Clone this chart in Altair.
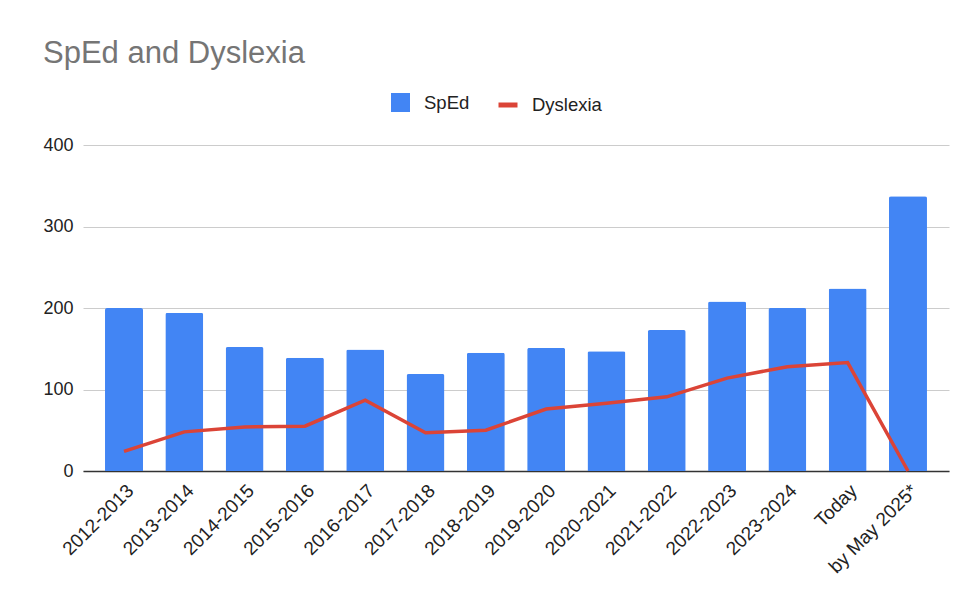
import altair as alt
import pandas as pd

categories = ["2012-2013", "2013-2014", "2014-2015", "2015-2016", "2016-2017",
              "2017-2018", "2018-2019", "2019-2020", "2020-2021", "2021-2022",
              "2022-2023", "2023-2024", "Today", "by May 2025*"]
sped = [200, 194, 152, 139, 149, 119, 145, 151, 147, 173, 208, 200, 224, 337]
dyslexia = [24, 48, 54, 55, 87, 47, 50, 76, 83, 91, 114, 128, 133, 0]
y_ticks = [0, 100, 200, 300, 400]

df = pd.DataFrame({"cat": categories, "SpEd": sped, "Dyslexia": dyslexia,
                   "s1": "SpEd", "s2": "Dyslexia"})

FONT = "Liberation Sans"
BLUE = "#4285F4"
RED = "#DB4437"

x = alt.X("cat:N", sort=categories, title=None,
          scale=alt.Scale(paddingInner=0.37, paddingOuter=0.365),
          axis=alt.Axis(labelAngle=-45, labelFontSize=19, labelColor="#222222",
                        labelFont=FONT, ticks=False, labelPadding=10,
                        domainColor="#333333", domainWidth=1.3, grid=False,
                        labelAlign="right", labelBaseline="top"))

bars = alt.Chart(df).mark_bar(cornerRadiusTopLeft=2, cornerRadiusTopRight=2).encode(
    x=x,
    y=alt.Y("SpEd:Q", title=None,
            scale=alt.Scale(domain=[0, 400], nice=False),
            axis=alt.Axis(values=y_ticks, labelFontSize=18, labelColor="#222222",
                          labelFont=FONT, ticks=False, domain=False,
                          labelPadding=10, gridColor="#cccccc", gridWidth=1)),
    color=alt.Color("s1:N", scale=alt.Scale(domain=["SpEd"], range=[BLUE]),
                    legend=alt.Legend(title=None, orient="none", legendX=308, legendY=-52,
                                      symbolType="square", symbolSize=361,
                                      symbolStrokeWidth=0, labelFontSize=18.5,
                                      labelFont=FONT, labelColor="#222222",
                                      labelOffset=14)),
)

line = alt.Chart(df).mark_line(strokeWidth=3.5).encode(
    x=x,
    y=alt.Y("Dyslexia:Q"),
    stroke=alt.Stroke("s2:N", scale=alt.Scale(domain=["Dyslexia"], range=[RED]),
                      legend=alt.Legend(title=None, orient="none", legendX=413, legendY=-52,
                                        symbolType="stroke", symbolSize=361,
                                        symbolStrokeWidth=5, labelFontSize=18.5,
                                        labelFont=FONT, labelColor="#222222",
                                        labelOffset=12)),
)

chart = alt.layer(bars, line).resolve_scale(color="independent", stroke="independent").properties(
    width=866,
    height=326,
    title=alt.TitleParams("SpEd and Dyslexia", anchor="start", frame="group",
                          fontSize=31, font=FONT, fontWeight="normal",
                          color="#757575", dx=-40, offset=23),
    autosize=alt.AutoSizeParams(type="none"),
    padding={"left": 75, "top": 137, "right": 10, "bottom": 112},
    background="white",
).configure_view(stroke=None)

chart.save("out.html", embed_options={"renderer": "svg", "actions": False})
